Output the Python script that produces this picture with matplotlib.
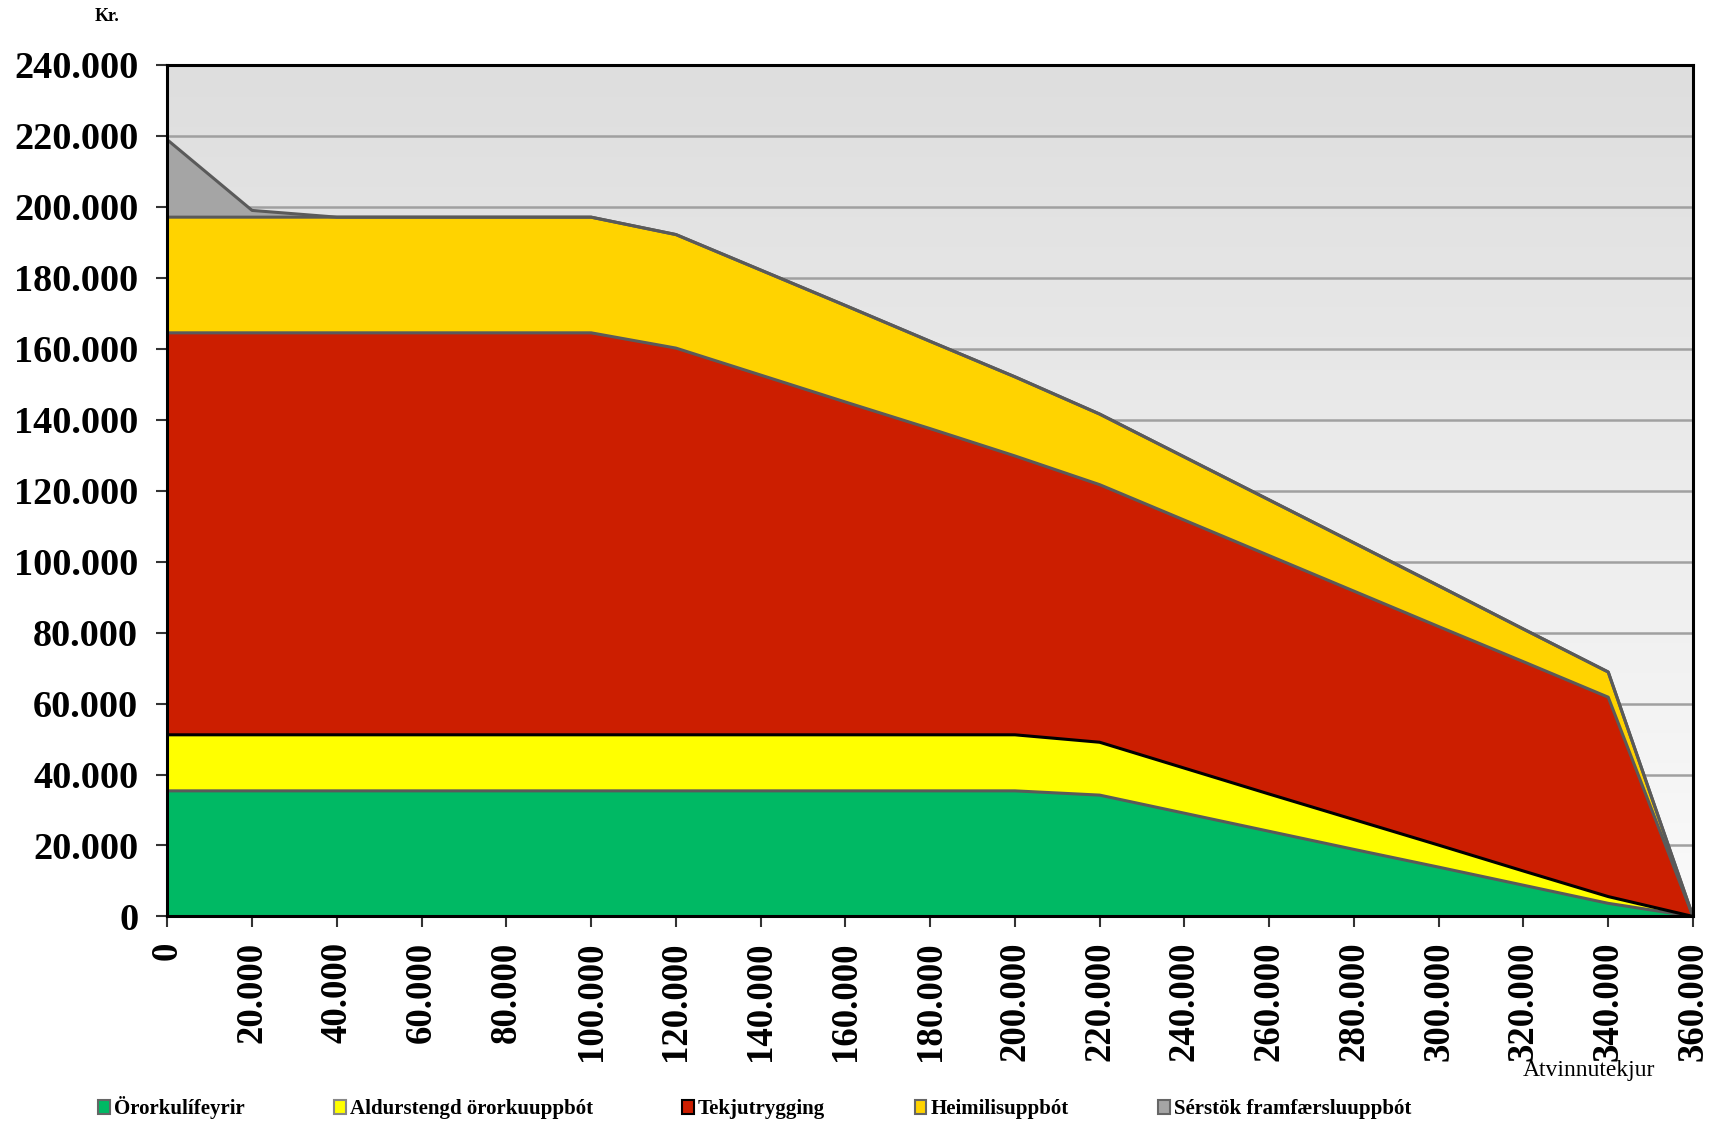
import numpy as np
import matplotlib
matplotlib.use("Agg")
import matplotlib.pyplot as plt
from matplotlib.patches import Patch
from matplotlib.ticker import FuncFormatter

plt.rcParams['font.family'] = ['Liberation Serif', 'DejaVu Serif']

# atvinnutekjur (kr.)
x = list(range(0, 360001, 20000))

# values in thousands of kr.
ororkulifeyrir = [35.4, 35.4, 35.4, 35.4, 35.4, 35.4, 35.4, 35.4, 35.4, 35.4, 35.4,
                  34.2, 29.1, 24.0, 18.9, 13.9, 8.8, 3.7, 0]
aldurstengd = [15.8, 15.8, 15.8, 15.8, 15.8, 15.8, 15.8, 15.8, 15.8, 15.8, 15.8,
               14.9, 12.7, 10.5, 8.4, 6.2, 4.0, 1.9, 0]
tekjutrygging = [113.3, 113.3, 113.3, 113.3, 113.3, 113.3, 109.0, 101.4, 93.8, 86.3, 78.6,
                 72.6, 69.9, 67.2, 64.4, 61.6, 59.0, 56.2, 0]
heimilisuppbot = [32.6, 32.6, 32.6, 32.6, 32.6, 32.6, 32.0, 29.6, 27.2, 24.6, 22.3,
                  19.9, 17.8, 15.7, 13.6, 11.5, 9.2, 7.1, 0]
serstok = [21.8, 1.9, 0, 0, 0, 0, 0, 0, 0, 0, 0,
           0, 0, 0, 0, 0, 0, 0, 0]

names = ["Örorkulífeyrir", "Aldurstengd örorkuuppbót", "Tekjutrygging",
         "Heimilisuppbót", "Sérstök framfærsluuppbót"]
series = [ororkulifeyrir, aldurstengd, tekjutrygging, heimilisuppbot, serstok]
colors = ["#00B964", "#FFFF00", "#CC1E00", "#FFD300", "#A5A5A5"]
# colour of the line on top of each band
toplines = ["#5a5a5a", "#000000", "#5a5a5a", "#5a5a5a", "#5a5a5a"]
legend_edges = ["#666666", "#888888", "#000000", "#666666", "#666666"]

fig = plt.figure(figsize=(17.27, 11.22), dpi=100)
ax = fig.add_axes([0.0969, 0.1832, 0.8834, 0.7589])

# gradient background
grad = np.linspace(0, 1, 256).reshape(-1, 1)
ax.imshow(grad, extent=[0, 360000, 0, 240000], aspect='auto', origin='upper',
          cmap=matplotlib.colors.LinearSegmentedColormap.from_list("bg", ["#DEDEDE", "#FAFAFA"]),
          zorder=0)

for yv in range(20000, 240001, 20000):
    ax.axhline(yv, color="#A0A0A0", lw=1.8, zorder=1)

xs = np.array(x)
bottom = np.zeros(len(x))
tops = []
for vals, c in zip(series, colors):
    top = bottom + np.array(vals) * 1000
    ax.fill_between(xs, bottom, top, facecolor=c, edgecolor='none', zorder=2)
    tops.append(top)
    bottom = top
for top, lc in zip(tops, toplines):
    ax.plot(xs, top, color=lc, lw=2.2, zorder=3 if lc != "#000000" else 4)

ax.set_xlim(0, 360000)
ax.set_ylim(0, 240000)
ax.set_xticks(x)
ax.set_yticks(range(0, 240001, 20000))
fmt = FuncFormatter(lambda v, p: f"{int(v):,}".replace(",", "."))
ax.xaxis.set_major_formatter(fmt)
ax.yaxis.set_major_formatter(fmt)
for lab in ax.get_xticklabels():
    lab.set_rotation(90)
ax.tick_params(axis='both', length=8, width=1.5, color="#333333")
ax.tick_params(axis='x', pad=10, labelsize=26.5)
ax.tick_params(axis='y', pad=13, labelsize=27.5)
for lab in ax.get_xticklabels() + ax.get_yticklabels():
    lab.set_fontweight('bold')
for s in ax.spines.values():
    s.set_linewidth(2.2)
    s.set_color("black")
    s.set_zorder(5)

fig.text(0.062, 0.985, "Kr.", fontsize=13, fontweight='bold', ha='center', va='center')
fig.text(0.920, 0.046, "Atvinnutekjur", fontsize=17, ha='center', va='center')

handles = [Patch(facecolor=c, edgecolor=ec, lw=1.5) for c, ec in zip(colors, legend_edges)]
fig.legend(handles, names, loc='center left', bbox_to_anchor=(0.046, 0.0125), ncol=5,
           frameon=False, prop={'weight': 'bold', 'size': 15}, handlelength=0.55,
           handleheight=0.7, handletextpad=0.2, columnspacing=4.3)

fig.savefig("out.png", dpi=100)
